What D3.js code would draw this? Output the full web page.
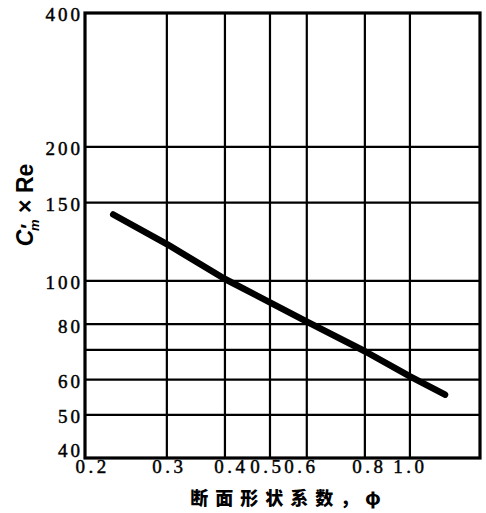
<!DOCTYPE html>
<html><head><meta charset="utf-8">
<script src="https://cdn.jsdelivr.net/npm/d3@7"></script>
<style>body{margin:0;background:#fff}svg{display:block}</style>
</head><body><svg id="c" width="486" height="513"></svg>
<script>
// ---- data ----
const xTicks = [0.2, 0.3, 0.4, 0.5, 0.6, 0.8, 1.0];
const xTickLabels = ["0.2", "0.3", "0.4", "0.5", "0.6", "0.8", "1.0"];
const xGrid = [0.3, 0.4, 0.5, 0.6, 0.8, 1.0];
const yTicks = [40, 50, 60, 80, 100, 150, 200, 400];
const yGrid = [50, 60, 70, 80, 100, 150, 200];
const phi = [0.23, 0.3, 0.4, 0.6, 0.8, 1.0, 1.19];
const cmRe = [141, 121, 101, 81, 69.5, 61, 55.5];
const xDomain = [0.2, 1.415];
const yDomain = [40, 400];

// ---- layout ----
const L = 85, R = 480, T = 13, B = 458;
const xLabelShift = [5, 0, 4, -5, -8, 2, -2];

const svg = d3.select("#c");
svg.append("rect").attr("width", 486).attr("height", 513).attr("fill", "#fff");

const x = d3.scaleLog().domain(xDomain).range([L, R]);
const y = d3.scaleLog().domain(yDomain).range([B, T]);

// grid
svg.append("g").selectAll("line").data(xGrid).join("line")
  .attr("x1", d => x(d)).attr("x2", d => x(d)).attr("y1", T).attr("y2", B)
  .attr("stroke", "#000").attr("stroke-width", 2.2);
svg.append("g").selectAll("line").data(yGrid).join("line")
  .attr("x1", L).attr("x2", R).attr("y1", d => y(d)).attr("y2", d => y(d))
  .attr("stroke", "#000").attr("stroke-width", 2.2);

// frame
svg.append("rect").attr("x", L).attr("y", T).attr("width", R - L).attr("height", B - T)
  .attr("fill", "none").attr("stroke", "#000").attr("stroke-width", 3.2);

// x axis labels
const xAxis = d3.axisBottom(x).tickValues(xTicks)
  .tickFormat((d, i) => xTickLabels[i]).tickSize(0).tickPadding(0);
const gx = svg.append("g").attr("transform", `translate(0,${B})`).call(xAxis);
gx.select(".domain").remove();
gx.selectAll("text")
  .attr("font-family", "Liberation Serif, serif").attr("font-size", 19)
  .attr("fill", "#000").attr("stroke", "#000").attr("stroke-width", 0.45)
  .attr("letter-spacing", 3.5)
  .attr("dy", 15)
  .attr("dx", (d, i) => xLabelShift[i] + 2);

// y axis labels
const yAxis = d3.axisLeft(y).tickValues(yTicks).tickFormat(d3.format("d")).tickSize(0).tickPadding(0);
const gy = svg.append("g").attr("transform", `translate(${L - 2},0)`).call(yAxis);
gy.select(".domain").remove();
gy.selectAll("text")
  .attr("font-family", "Liberation Serif, serif").attr("font-size", 19)
  .attr("fill", "#000").attr("stroke", "#000").attr("stroke-width", 0.45)
  .attr("letter-spacing", 3)
  .attr("dy", (d) => d === 40 ? "-0.1em" : "0.42em");

// curve
const line = d3.line().x(d => x(d[0])).y(d => y(d[1]));
svg.append("path").datum(phi.map((p, i) => [p, cmRe[i]]))
  .attr("d", line).attr("fill", "none").attr("stroke", "#000")
  .attr("stroke-width", 6.5).attr("stroke-linecap", "round").attr("stroke-linejoin", "round");

// x title
svg.append("text").attr("x", 289).attr("y", 505)
  .attr("text-anchor", "middle")
  .attr("font-family", "Noto Sans CJK SC, sans-serif").attr("font-weight", 900)
  .attr("font-size", 18).attr("letter-spacing", 7).attr("fill", "#000")
  .text("断面形状系数，φ");

// y title
const yt = svg.append("text")
  .attr("transform", "translate(33,205) rotate(-90)")
  .attr("text-anchor", "middle")
  .attr("font-family", "Liberation Sans, Arial, sans-serif").attr("font-weight", 700)
  .attr("font-size", 23).attr("fill", "#000");
yt.append("tspan").attr("font-style", "italic").text("C");
yt.append("tspan").attr("font-size", 20).attr("dx", 1).attr("dy", 2).text("\u2032");
yt.append("tspan").attr("font-size", 13).attr("font-style", "italic").attr("dx", -7).attr("dy", 4).text("m");
yt.append("tspan").attr("dy", -6).text("\u00A0×\u00A0Re");
</script></body></html>
